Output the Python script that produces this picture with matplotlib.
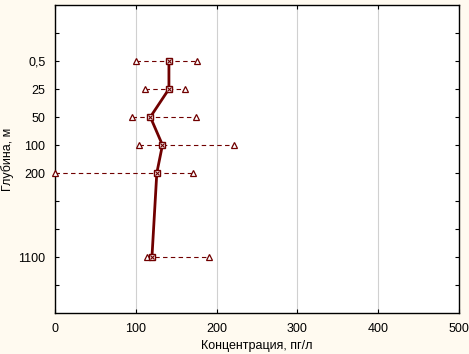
import numpy as np
import matplotlib
matplotlib.use("Agg")
import matplotlib.pyplot as plt

plt.rcParams['font.family'] = ['Liberation Sans', 'DejaVu Sans']

# data
depth_labels = ['0,5', '25', '50', '100', '200', '1100']
depth_pos = [1, 2, 3, 4, 5, 8]
conc_mean = [141, 141, 118, 133, 126, 120]
conc_min = [100, 111, 95, 104, 0, 114]
conc_max = [176, 161, 175, 222, 171, 191]

dark_red = '#700000'

fig = plt.figure(figsize=(4.69, 3.54), dpi=100, facecolor='#fffaf0')
ax = fig.add_axes([55 / 469, 1 - 313 / 354, 404 / 469, 308 / 354])
ax.set_facecolor('white')

# min-max dashed ranges
for y, lo, hi in zip(depth_pos, conc_min, conc_max):
    ax.plot([lo, hi], [y, y], ls=(0, (4, 3)), lw=0.8, color=dark_red, zorder=2)
ax.plot(conc_min, depth_pos, ls='none', marker='^', ms=4.5, mfc='white',
        mec=dark_red, mew=0.9, zorder=4, clip_on=False)
ax.plot(conc_max, depth_pos, ls='none', marker='^', ms=4.5, mfc='white',
        mec=dark_red, mew=0.9, zorder=4, clip_on=False)

# mean profile
ax.plot(conc_mean, depth_pos, '-', lw=2, color=dark_red, zorder=3)
ax.plot(conc_mean, depth_pos, ls='none', marker='s', ms=4.5, mfc='white',
        mec=dark_red, mew=1, zorder=5)
ax.plot(conc_mean, depth_pos, ls='none', marker='x', ms=3.2, mec=dark_red,
        mew=0.8, zorder=6)

ax.set_xlim(0, 500)
ax.set_ylim(10, -1)
ax.set_xticks([0, 100, 200, 300, 400, 500])
ax.set_yticks(range(0, 10))
ylabels = [''] * 10
for p, lab in zip(depth_pos, depth_labels):
    ylabels[p] = lab
ax.set_yticklabels(ylabels)

ax.grid(axis='x', color='#d0d0d0', lw=0.8)
ax.set_axisbelow(True)
ax.tick_params(direction='in', length=3, width=0.8, labelsize=9,
               top=True, right=True, pad=7)
for s in ax.spines.values():
    s.set_linewidth(1)
    s.set_color('black')

ax.set_xlabel('Концентрация, пг/л', fontsize=9, labelpad=4)
ax.set_ylabel('Глубина, м', fontsize=9)
ax.yaxis.set_label_coords(-0.102, 0.5)

fig.savefig('out.png', dpi=100, facecolor=fig.get_facecolor())
